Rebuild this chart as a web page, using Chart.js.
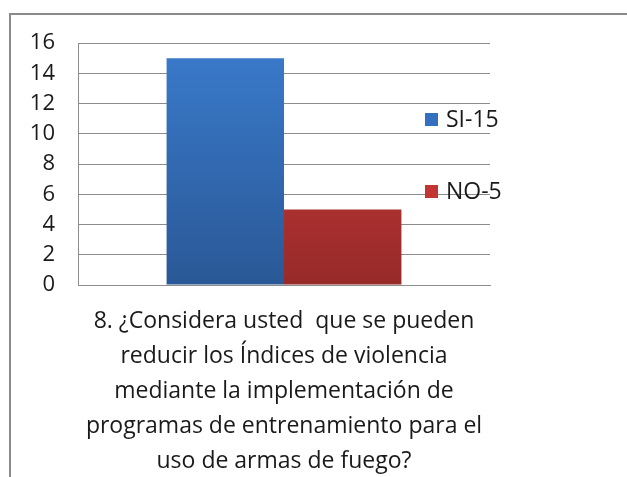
<!DOCTYPE html>
<html>
<head>
<meta charset="utf-8">
<script src="https://cdn.jsdelivr.net/npm/chart.js@4.4.1/dist/chart.umd.min.js"></script>
<style>
    html, body { margin: 0; padding: 0; background: #ffffff; overflow: hidden; }
    #wrap { position: relative; width: 627px; height: 477px; }
    #frame { position: absolute; left: 9px; top: 13px; width: 700px; height: 600px; border: 2px solid #8a8a8a; }
    #chart { position: absolute; left: 0; top: 0; }
</style>
</head>
<body>
<div id="wrap">
    <div id="frame"></div>
    <canvas id="chart" width="627" height="477"></canvas>
</div>
<script>
// Datos del gráfico
var categorias = [[
    '8. ¿Considera usted  que se pueden',
    'reducir los Índices de violencia',
    'mediante la implementación de',
    'programas de entrenamiento para el',
    'uso de armas de fuego?'
]];
var serieNombres = ['SI-15', 'NO-5'];
var serieSi = [15];
var serieNo = [5];
var ticksY = [0, 2, 4, 6, 8, 10, 12, 14, 16];

var FUENTE = "'Open Sans', sans-serif";

function degradado(ctx, arriba, abajo) {
    var chart = ctx.chart;
    var area = chart.chartArea;
    if (!area) return arriba;
    var g = chart.ctx.createLinearGradient(0, area.top, 0, area.bottom);
    g.addColorStop(0, arriba);
    g.addColorStop(1, abajo);
    return g;
}

// Leyenda dibujada dentro del área del gráfico, como en el original
var leyendaPlugin = {
    id: 'leyendaInterna',
    afterDraw: function(chart, args, opts) {
        var c = chart.ctx;
        c.save();
        c.font = opts.size + 'px ' + FUENTE;
        c.textBaseline = 'middle';
        chart.data.datasets.forEach(function(ds, i) {
            var y = opts.ys[i];
            c.fillStyle = opts.colors[i];
            c.fillRect(opts.x, y - 7, 13, 13);
            c.fillStyle = '#1a1a1a';
            c.fillText(ds.label, opts.x + 21, y);
        });
        c.restore();
    }
};

new Chart(document.getElementById('chart').getContext('2d'), {
    type: 'bar',
    data: {
        labels: categorias,
        datasets: [
            {
                label: serieNombres[0],
                data: serieSi,
                backgroundColor: function(ctx) { return degradado(ctx, '#3a7bcc', '#2a5896'); },
                borderWidth: 0
            },
            {
                label: serieNombres[1],
                data: serieNo,
                backgroundColor: function(ctx) { return degradado(ctx, '#d23c3a', '#962a29'); },
                borderWidth: 0
            }
        ]
    },
    options: {
        responsive: false,
        animation: false,
        layout: {
            padding: { left: 0, top: 43, right: 137, bottom: 0 }
        },
        datasets: {
            bar: {
                barPercentage: 1,
                categoryPercentage: 0.57
            }
        },
        plugins: {
            legend: { display: false },
            tooltip: { enabled: false },
            leyendaInterna: {
                x: 425,
                ys: [120, 192],
                size: 23,
                colors: ['#3470c0', '#c23533']
            }
        },
        scales: {
            y: {
                min: 0,
                max: 16,
                afterBuildTicks: function(scale) {
                    scale.ticks = ticksY.map(function(v) { return { value: v }; });
                },
                afterFit: function(scale) { scale.width = 78; },
                grid: {
                    color: '#8c8c8c',
                    lineWidth: 1,
                    drawTicks: false
                },
                border: { color: '#8c8c8c', width: 1 },
                ticks: {
                    padding: 23,
                    color: '#1a1a1a',
                    font: { family: FUENTE, size: 22 }
                }
            },
            x: {
                afterFit: function(scale) { scale.height = 192; },
                grid: { display: false, drawTicks: false },
                border: { color: '#8c8c8c', width: 1 },
                ticks: {
                    padding: 19,
                    color: '#1a1a1a',
                    font: { family: FUENTE, size: 23, lineHeight: 1.52 }
                }
            }
        }
    },
    plugins: [leyendaPlugin]
});
</script>
</body>
</html>
